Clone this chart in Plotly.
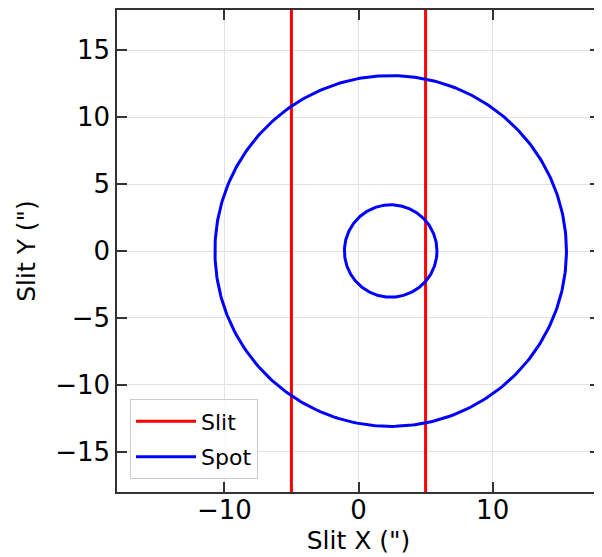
import numpy as np
import plotly.graph_objects as go

# Data
slit_edges_x = [-5.0, 5.0]          # slit edges (arcsec)
spot_center_x = [2.4, 2.4]          # spot centres
spot_center_y = [0.0, 0.0]
spot_radius = [13.1, 3.45]          # spot radii
axis_range = [-18, 18]
tick_vals_x = [-10, 0, 10]
tick_vals_y = [-15, -10, -5, 0, 5, 10, 15]

fig = go.Figure()

for i, xe in enumerate(slit_edges_x):
    fig.add_trace(go.Scatter(
        x=[xe, xe], y=[axis_range[0] - 5, axis_range[1] + 5],
        mode="lines", line=dict(color="red", width=3),
        name="Slit", legendgroup="slit", showlegend=(i == 0)))

theta = np.linspace(0, 2 * np.pi, 400)
for i, (cx, cy, r) in enumerate(zip(spot_center_x, spot_center_y, spot_radius)):
    fig.add_trace(go.Scatter(
        x=cx + r * np.cos(theta), y=cy + r * np.sin(theta),
        mode="lines", line=dict(color="blue", width=3),
        name="Spot", legendgroup="spot", showlegend=(i == 0)))

font = "DejaVu Sans"
axis_common = dict(
    range=axis_range, showgrid=True, gridcolor="#e3e3e3", gridwidth=1,
    zeroline=False, showline=True, linecolor="#333", linewidth=1.5,
    mirror="ticks", ticks="inside", ticklen=10, tickwidth=1.5, tickcolor="#333",
    tickfont=dict(family=font, size=26, color="black"),
)

fig.update_layout(
    width=594, height=549,
    margin=dict(l=109, r=2, t=2, b=65, autoexpand=False),
    paper_bgcolor="white", plot_bgcolor="white",
    font=dict(family=font, color="black"),
    xaxis=dict(**axis_common, tickvals=tick_vals_x, ticklabelstandoff=-6,
               ticktext=["\u221210", "0", "10"],
               title=dict(text='Slit X (")', font=dict(family=font, size=25), standoff=8)),
    yaxis=dict(**axis_common, tickvals=tick_vals_y,
               ticktext=[("\u2212" + str(-v)) if v < 0 else str(v) for v in tick_vals_y],
               title=dict(text='Slit Y (")', font=dict(family=font, size=25), standoff=12)),
    legend=dict(x=0.027, y=0.026, xanchor="left", yanchor="bottom",
                bgcolor="rgba(255,255,255,0.85)", bordercolor="#cccccc", borderwidth=1,
                font=dict(family=font, size=22), itemwidth=60, tracegroupgap=4),
    showlegend=True,
)

fig.write_html("out.html")
